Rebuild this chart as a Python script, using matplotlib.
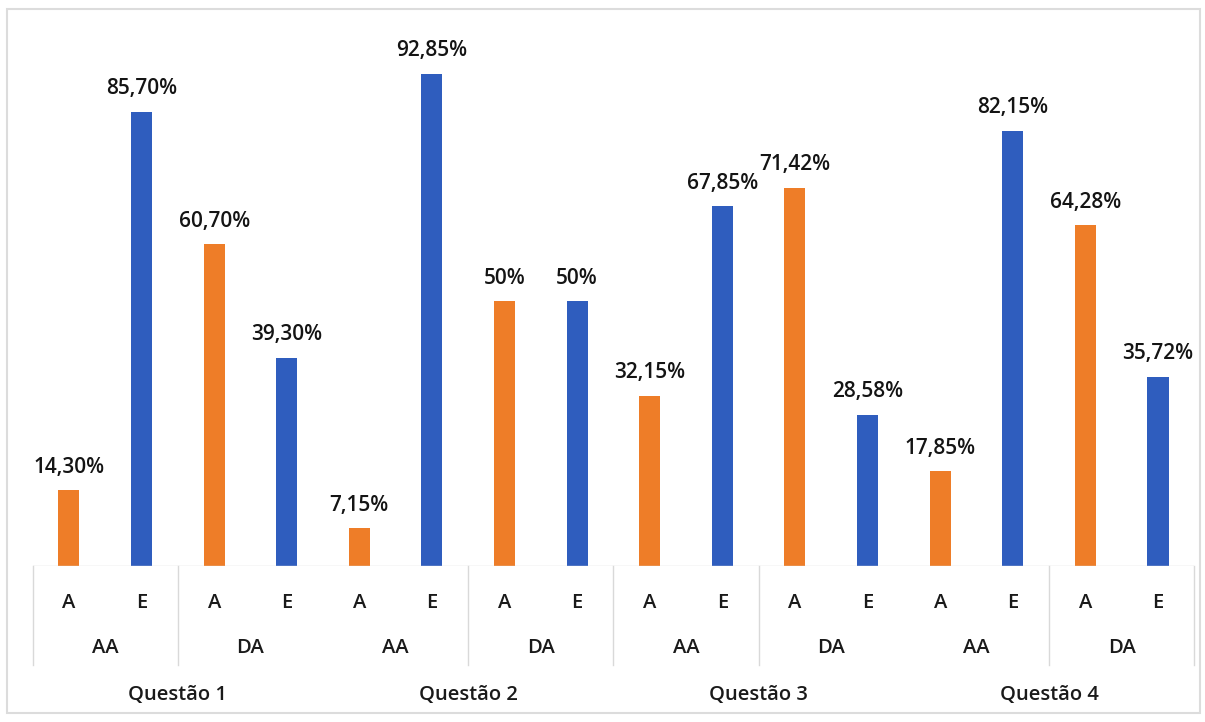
import matplotlib.pyplot as plt
from matplotlib.transforms import blended_transform_factory
from matplotlib.patches import Rectangle

# data
questions = ['Questão 1', 'Questão 2', 'Questão 3', 'Questão 4']
groups = ['AA', 'DA']
subs = ['A', 'E']
a_vals = [14.30, 60.70, 7.15, 50, 32.15, 71.42, 17.85, 64.28]
e_vals = [85.70, 39.30, 92.85, 50, 67.85, 28.58, 82.15, 35.72]
# group boundaries (in pairs) where the scan shows a divider
dividers = [0, 1, 3, 4, 5, 7, 8]

orange = '#EE7D28'
blue = '#2F5DBE'
font = 'Open Sans'


def fmt(v):
    if v == int(v):
        return '%d%%' % v
    return ('%.2f' % v).replace('.', ',') + '%'


fig = plt.figure(figsize=(12.05, 7.22), dpi=100)
ax = fig.add_axes([0.0271, 0.216, 0.964, 0.734])

xa = [2 * i for i in range(len(a_vals))]
xe = [2 * i + 1 for i in range(len(e_vals))]
w = 0.29
ax.bar(xa, a_vals, width=w, color=orange)
ax.bar(xe, e_vals, width=w, color=blue)

for x, v in zip(xa + xe, a_vals + e_vals):
    ax.annotate(fmt(v), (x, v), xytext=(0, 9), textcoords='offset points',
                ha='center', va='bottom', fontsize=15, family=font,
                fontweight='semibold', color='#141414')

ax.set_xlim(-0.5, 15.5)
ax.set_ylim(0, 100)
for s in ax.spines.values():
    s.set_visible(False)
ax.axhline(0, color='#d9d9d9', lw=1)
ax.set_xticks([])
ax.set_yticks([])

tr = blended_transform_factory(ax.transData, fig.transFigure)
lab = dict(transform=tr, ha='center', va='center', fontsize=14.5,
           family=font, fontweight='semibold', color='#1a1a1a')

# hierarchical category labels
for i in range(len(a_vals)):
    ax.text(xa[i], 0.165, subs[0], **lab)
    ax.text(xe[i], 0.165, subs[1], **lab)
    ax.text(2 * i + 0.5, 0.102, groups[i % 2], **lab)
for q, name in enumerate(questions):
    ax.text(4 * q + 1.5, 0.037, name, **lab)

for d in dividers:
    ax.plot([2 * d - 0.5, 2 * d - 0.5], [0.216, 0.079], transform=tr,
            color='#d9d9d9', lw=1, clip_on=False)

fig.patches.append(Rectangle((0.006, 0.012), 0.99, 0.976, transform=fig.transFigure,
                             fill=False, edgecolor='#dcdcdc', lw=1.5))

fig.savefig('out.png', dpi=100)
